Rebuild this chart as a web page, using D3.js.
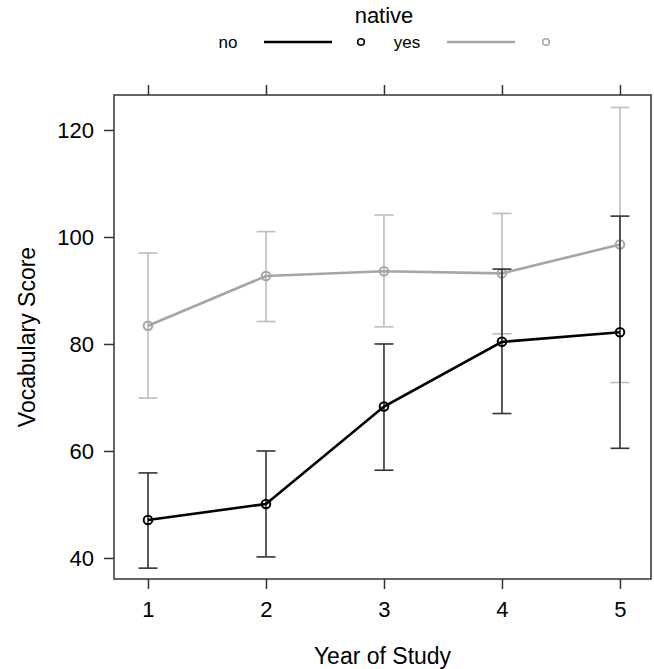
<!DOCTYPE html>
<html>
<head>
<meta charset="utf-8">
<script src="https://cdn.jsdelivr.net/npm/d3@7"></script>
<style>
  html, body { margin: 0; padding: 0; background: #fff; }
  svg { display: block; font-family: "Liberation Sans", Arial, Helvetica, sans-serif; }
</style>
</head>
<body>
<svg id="chart" width="654" height="669"></svg>
<script>
// Year of study (x categories)
const years = [1, 2, 3, 4, 5];
const xTicks = [1, 2, 3, 4, 5];
const yTicks = [40, 60, 80, 100, 120];

// Non-native speakers: mean score with interval bounds
const noMean  = [47.1, 50.1, 68.3, 80.4, 82.2];
const noLower = [38.1, 40.2, 56.4, 67.0, 60.5];
const noUpper = [55.9, 60.0, 80.0, 94.0, 103.9];

// Native speakers: mean score with interval bounds
const yesMean  = [83.4, 92.7, 93.6, 93.2, 98.6];
const yesLower = [69.9, 84.2, 83.2, 81.9, 72.8];
const yesUpper = [97.0, 101.0, 104.1, 104.4, 124.2];

const groups = ["no", "yes"];

const svg = d3.select("#chart");
const box = { left: 114, right: 651, top: 95, bottom: 579 };

const x = d3.scaleLinear().domain([0.712, 5.263]).range([box.left, box.right]);
const y = d3.scaleLinear().domain([36.07, 126.54]).range([box.bottom, box.top]);

const style = {
  no:  { line: "#000000", bar: "#333333", point: "#000000", lw: 2.6, bw: 1.6 },
  yes: { line: "#a6a6a6", bar: "#bdbdbd", point: "#a6a6a6", lw: 2.6, bw: 1.6 }
};

const series = {
  no:  years.map((yr, i) => ({ yr, m: noMean[i],  lo: noLower[i],  hi: noUpper[i] })),
  yes: years.map((yr, i) => ({ yr, m: yesMean[i], lo: yesLower[i], hi: yesUpper[i] }))
};

// Axes: left with labels, bottom with labels, top ticks only
const axisColor = "#333";
const gL = svg.append("g").attr("transform", `translate(${box.left},0)`)
  .call(d3.axisLeft(y).tickValues(yTicks).tickSize(10).tickPadding(10).tickFormat(d3.format("d")));
const gB = svg.append("g").attr("transform", `translate(0,${box.bottom})`)
  .call(d3.axisBottom(x).tickValues(xTicks).tickSize(10).tickPadding(12).tickFormat(d3.format("d")));
const gT = svg.append("g").attr("transform", `translate(0,${box.top})`)
  .call(d3.axisTop(x).tickValues(xTicks).tickSize(10).tickFormat(""));
[gL, gB, gT].forEach(g => {
  g.select(".domain").remove();
  g.selectAll(".tick line").attr("stroke", axisColor).attr("stroke-width", 1.5);
  g.selectAll(".tick text").attr("fill", "#000").style("font-size", "22px")
    .style("font-family", '"Liberation Sans", Arial, sans-serif');
});

// Panel border
svg.append("rect")
  .attr("x", box.left).attr("y", box.top)
  .attr("width", box.right - box.left).attr("height", box.bottom - box.top)
  .attr("fill", "none").attr("stroke", axisColor).attr("stroke-width", 1.5);

// Series: error bars, connecting line, open points
const capHalf = 9.5;
["yes", "no"].forEach(g => {
  const s = style[g];
  const data = series[g];
  const grp = svg.append("g");
  const bars = grp.selectAll("g.bar").data(data).join("g");
  bars.append("line")
    .attr("x1", d => x(d.yr)).attr("x2", d => x(d.yr))
    .attr("y1", d => y(d.lo)).attr("y2", d => y(d.hi))
    .attr("stroke", s.bar).attr("stroke-width", s.bw);
  bars.append("line")
    .attr("x1", d => x(d.yr) - capHalf).attr("x2", d => x(d.yr) + capHalf)
    .attr("y1", d => y(d.hi)).attr("y2", d => y(d.hi))
    .attr("stroke", s.bar).attr("stroke-width", s.bw);
  bars.append("line")
    .attr("x1", d => x(d.yr) - capHalf).attr("x2", d => x(d.yr) + capHalf)
    .attr("y1", d => y(d.lo)).attr("y2", d => y(d.lo))
    .attr("stroke", s.bar).attr("stroke-width", s.bw);
  grp.append("path")
    .datum(data)
    .attr("d", d3.line().x(d => x(d.yr)).y(d => y(d.m)))
    .attr("fill", "none").attr("stroke", s.line).attr("stroke-width", s.lw);
  grp.selectAll("circle").data(data).join("circle")
    .attr("cx", d => x(d.yr)).attr("cy", d => y(d.m)).attr("r", 4.3)
    .attr("fill", "none").attr("stroke", s.point).attr("stroke-width", 2);
});

// Axis titles
svg.append("text")
  .attr("x", (box.left + box.right) / 2).attr("y", 664)
  .attr("text-anchor", "middle").attr("fill", "#000").style("font-size", "23px")
  .text("Year of Study");
svg.append("text")
  .attr("transform", `translate(35,${(box.top + box.bottom) / 2}) rotate(-90)`)
  .attr("text-anchor", "middle").attr("fill", "#000").style("font-size", "23px")
  .text("Vocabulary Score");

// Legend
svg.append("text")
  .attr("x", 384).attr("y", 23).attr("text-anchor", "middle")
  .attr("fill", "#000").style("font-size", "22px").text("native");
const legendItems = [
  { key: "no",  tx: 228, l1: 264, l2: 332, cx: 361 },
  { key: "yes", tx: 407, l1: 447, l2: 515, cx: 546 }
];
const lg = svg.append("g");
legendItems.forEach(it => {
  const s = style[it.key];
  lg.append("text").attr("x", it.tx).attr("y", 48).attr("text-anchor", "middle")
    .attr("fill", "#000").style("font-size", "17px").text(it.key);
  lg.append("line").attr("x1", it.l1).attr("x2", it.l2).attr("y1", 42).attr("y2", 42)
    .attr("stroke", s.line).attr("stroke-width", s.lw);
  lg.append("circle").attr("cx", it.cx).attr("cy", 42).attr("r", 3.3)
    .attr("fill", "none").attr("stroke", s.point).attr("stroke-width", 1.6);
});
</script>
</body>
</html>
